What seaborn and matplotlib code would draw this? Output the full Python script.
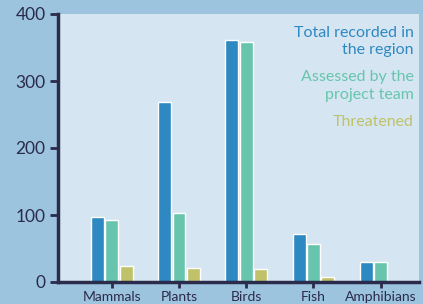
import pandas as pd
import seaborn as sns
import matplotlib.pyplot as plt

# values
groups = ['Mammals', 'Plants', 'Birds', 'Fish', 'Amphibians']
total = [97, 268, 361, 72, 30]
assessed = [92, 103, 358, 57, 30]
threatened = [24, 21, 19, 7, 0]
series = ['Total recorded in\nthe region', 'Assessed by the\nproject team', 'Threatened']
colors = ['#2e88c2', '#67c5ad', '#bfc268']

df = pd.DataFrame({
    'group': groups * 3,
    'series': [series[0]] * 5 + [series[1]] * 5 + [series[2]] * 5,
    'value': total + assessed + threatened,
})

sns.set_style('white')
plt.rcParams['font.family'] = ['Lato', 'DejaVu Sans']
navy = '#2b2b4b'

fig = plt.figure(figsize=(4.23, 3.04), dpi=100)
fig.patch.set_facecolor('#9cc4df')
ax = fig.add_axes([58 / 423, 22 / 304, 361 / 423, 268 / 304])
ax.set_facecolor('#d5e6f2')

sns.barplot(data=df, x='group', y='value', hue='series', palette=colors,
            width=0.64, gap=0.1, saturation=1, legend=False, ax=ax)

ax.set_xlim(-0.8, 4.57)
ax.set_ylim(0, 400)
ax.set_yticks([0, 100, 200, 300, 400])
ax.set_xlabel('')
ax.set_ylabel('')

for s in ['top', 'right']:
    ax.spines[s].set_visible(False)
for s in ['left', 'bottom']:
    ax.spines[s].set_color(navy)
    ax.spines[s].set_linewidth(2.5)

ax.tick_params(axis='y', length=6, width=2, color=navy, labelcolor=navy,
               labelsize=12.5, pad=3, left=True)
ax.tick_params(axis='x', length=4, width=2, color=navy, labelcolor=navy,
               labelsize=10, pad=2.5, bottom=True)

# legend as coloured text
ys = [0.955, 0.79, 0.625]
for lab, c, y in zip(series, colors, ys):
    ax.text(0.985, y, lab, transform=ax.transAxes, ha='right', va='top',
            multialignment='right', color=c, fontsize=11.5, linespacing=1.3)

fig.savefig('out.png', dpi=100, facecolor=fig.get_facecolor())
